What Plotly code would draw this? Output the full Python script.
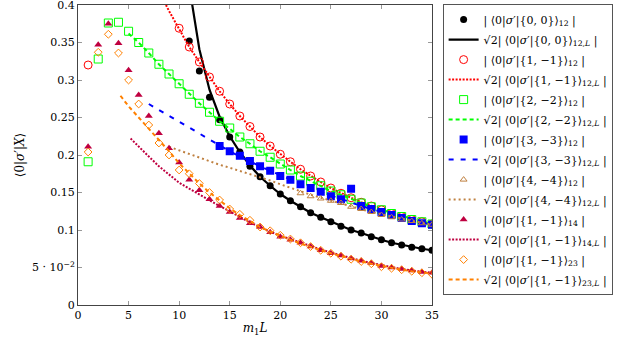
import plotly.graph_objects as go

# ---- data ----
x_00 = list(range(11, 36))
y_00 = [0.352, 0.312, 0.277, 0.247, 0.224, 0.204, 0.185, 0.171, 0.159, 0.148,
        0.139, 0.131, 0.123, 0.117, 0.111, 0.105, 0.100, 0.096, 0.091, 0.087,
        0.083, 0.080, 0.077, 0.075, 0.073]
xl_00 = [11.0, 11.3, 12, 13, 14, 15, 16, 17, 18, 19, 20, 21, 22, 23, 24, 25,
         26, 27, 28, 29, 30, 31, 32, 33, 34, 35]
yl_00 = [0.425, 0.400, 0.341, 0.287, 0.251, 0.225, 0.204, 0.186, 0.171, 0.159,
         0.148, 0.139, 0.131, 0.123, 0.117, 0.111, 0.105, 0.100, 0.096, 0.091,
         0.087, 0.083, 0.080, 0.077, 0.075, 0.073]

x_11 = [1] + list(range(10, 36))
y_11 = [0.320, 0.369, 0.344, 0.324, 0.304, 0.285, 0.268, 0.252, 0.238, 0.224,
        0.212, 0.201, 0.191, 0.181, 0.172, 0.164, 0.156, 0.149, 0.143, 0.137,
        0.132, 0.127, 0.122, 0.118, 0.114, 0.111, 0.108]
xl_11 = [8.7] + list(range(9, 36))
yl_11 = [0.400, 0.392, 0.368, 0.344, 0.324, 0.304, 0.285, 0.268, 0.252, 0.238,
         0.224, 0.212, 0.201, 0.191, 0.181, 0.172, 0.164, 0.156, 0.149, 0.143,
         0.137, 0.132, 0.127, 0.122, 0.118, 0.114, 0.111, 0.108]

x_22 = list(range(1, 36))
y_22 = [0.191, 0.328, 0.376, 0.377, 0.365, 0.350, 0.336, 0.321, 0.308, 0.295,
        0.281, 0.269, 0.257, 0.245, 0.236, 0.224, 0.215, 0.205, 0.197, 0.188,
        0.180, 0.172, 0.165, 0.159, 0.152, 0.147, 0.141, 0.136, 0.131, 0.127,
        0.122, 0.118, 0.114, 0.111, 0.108]
xl_22 = list(range(5, 36))
yl_22 = [0.362, 0.350, 0.336, 0.321, 0.308, 0.295, 0.281, 0.269, 0.257, 0.245,
         0.235, 0.224, 0.215, 0.205, 0.197, 0.188, 0.180, 0.172, 0.165, 0.159,
         0.152, 0.147, 0.141, 0.136, 0.131, 0.127, 0.122, 0.118, 0.114, 0.111,
         0.108]

x_33 = list(range(14, 36))
y_33 = [0.212, 0.205, 0.199, 0.192, 0.185, 0.179, 0.172, 0.167, 0.161, 0.156,
        0.151, 0.145, 0.141, 0.155, 0.132, 0.128, 0.124, 0.120, 0.116, 0.112,
        0.109, 0.107]
xl_33 = list(range(7, 36))
yl_33 = [0.268, 0.260, 0.252, 0.244, 0.236, 0.228, 0.220, 0.212, 0.205, 0.198,
         0.191, 0.185, 0.179, 0.173, 0.167, 0.161, 0.156, 0.151, 0.146, 0.141,
         0.137, 0.132, 0.128, 0.124, 0.120, 0.116, 0.113, 0.110, 0.107]

x_44 = list(range(22, 36))
y_44 = [0.149, 0.145, 0.142, 0.139, 0.136, 0.131, 0.128, 0.124, 0.120, 0.117,
        0.114, 0.112, 0.109, 0.107]
xl_44 = list(range(9, 36))
yl_44 = [0.211, 0.206, 0.201, 0.196, 0.191, 0.187, 0.183, 0.179, 0.175, 0.171,
         0.166, 0.161, 0.156, 0.152, 0.147, 0.143, 0.139, 0.135, 0.131, 0.128,
         0.124, 0.121, 0.118, 0.115, 0.112, 0.109, 0.107]

x_14 = list(range(1, 36))
y_14 = [0.211, 0.347, 0.375, 0.349, 0.313, 0.280, 0.252, 0.229, 0.209, 0.190,
        0.167, 0.153, 0.141, 0.132, 0.124, 0.116, 0.109, 0.104, 0.097, 0.091,
        0.087, 0.083, 0.078, 0.073, 0.069, 0.066, 0.062, 0.059, 0.056, 0.052,
        0.050, 0.048, 0.046, 0.044, 0.043]
xl_14 = [5.2] + list(range(6, 36))
yl_14 = [0.222, 0.211, 0.198, 0.185, 0.174, 0.163, 0.155, 0.147, 0.139, 0.132,
         0.125, 0.117, 0.110, 0.104, 0.098, 0.092, 0.088, 0.083, 0.078, 0.074,
         0.070, 0.066, 0.062, 0.059, 0.056, 0.053, 0.050, 0.048, 0.046, 0.044,
         0.043]

x_23 = list(range(1, 36))
y_23 = [0.204, 0.337, 0.361, 0.336, 0.300, 0.268, 0.240, 0.216, 0.200, 0.180,
        0.175, 0.162, 0.150, 0.140, 0.128, 0.121, 0.113, 0.104, 0.099, 0.093,
        0.088, 0.083, 0.078, 0.073, 0.069, 0.065, 0.061, 0.058, 0.055, 0.051,
        0.049, 0.047, 0.045, 0.043, 0.041]
xl_23 = [4.2] + list(range(5, 36))
yl_23 = [0.279, 0.265, 0.250, 0.235, 0.221, 0.205, 0.189, 0.175, 0.162, 0.150,
         0.139, 0.129, 0.120, 0.112, 0.104, 0.098, 0.092, 0.087, 0.082, 0.077,
         0.073, 0.069, 0.065, 0.062, 0.058, 0.055, 0.052, 0.049, 0.047, 0.045,
         0.043, 0.042]

x_ticks = [0, 5, 10, 15, 20, 25, 30, 35]
y_ticks = [0, 0.05, 0.1, 0.15, 0.2, 0.25, 0.3, 0.35, 0.4]
y_ticktext = ["0", "5 · 10<sup>−2</sup>", "0.1", "0.15", "0.2", "0.25", "0.3",
              "0.35", "0.4"]

BROWN = "#bf8040"
PURPLE = "#bf0040"
ORANGE = "#ff8000"
SERIF = "DejaVu Serif"


def amp(state, sub, sqrt2=False):
    pre = "√2" if sqrt2 else ""
    return f"{pre}| ⟨0|<i>σ</i>′|{{{state}}}⟩<sub>{sub}</sub> |"


fig = go.Figure()
n_pair = 0


def add_pair(xm, ym, xl, yl, state, sub, color, marker, dash, lw=2):
    # every legend entry in its own group so tracegroupgap spaces the rows
    global n_pair
    fig.add_scatter(x=xm, y=ym, mode="markers", marker=marker,
                    name=amp(state, sub), legendgroup=f"m{n_pair}")
    fig.add_scatter(x=xl, y=yl, mode="lines",
                    line=dict(color=color, width=lw, dash=dash),
                    name=amp(state, sub + ",<i>L</i>", sqrt2=True),
                    legendgroup=f"l{n_pair}")
    n_pair += 1


add_pair(x_00, y_00, xl_00, yl_00, "0, 0", "12", "black",
         dict(symbol="circle", size=7, color="black"), "solid", lw=2.2)
add_pair(x_11, y_11, xl_11, yl_11, "1, −1", "12", "red",
         dict(symbol="circle-open", size=8, color="red", line_width=1), "2px,1.5px")
add_pair(x_22, y_22, xl_22, yl_22, "2, −2", "12", "#00ff00",
         dict(symbol="square-open", size=8, color="#00ff00", line_width=1), "4px,3px")
add_pair(x_33, y_33, xl_33, yl_33, "3, −3", "12", "blue",
         dict(symbol="square", size=8, color="blue"), "5px,7px")
add_pair(x_44, y_44, xl_44, yl_44, "4, −4", "12", BROWN,
         dict(symbol="triangle-up-open", size=6, color=BROWN, line_width=1), "2px,3px")
add_pair(x_14, y_14, xl_14, yl_14, "1, −1", "14", PURPLE,
         dict(symbol="triangle-up", size=7, color=PURPLE), "2px,1.5px")
add_pair(x_23, y_23, xl_23, yl_23, "1, −1", "23", ORANGE,
         dict(symbol="diamond-open", size=6, color=ORANGE, line_width=1), "4px,3px")

axis_common = dict(showgrid=False, zeroline=False, showline=True,
                   linecolor="#444", linewidth=1, mirror="allticks",
                   ticks="inside", ticklen=4, tickcolor="#999",
                   ticklabeloverflow="allow",
                   tickfont=dict(family=SERIF, size=11, color="black"))

fig.update_xaxes(range=[0, 35], tickvals=x_ticks,
                 title=dict(text="<i>m</i><sub>1</sub><i>L</i>", standoff=2,
                            font=dict(family=SERIF, size=12)),
                 **axis_common)
fig.update_yaxes(range=[0, 0.4], tickvals=y_ticks, ticktext=y_ticktext,
                 title=dict(text="⟨0|<i>σ</i>′|<i>X</i>⟩", standoff=4,
                            font=dict(family=SERIF, size=12)),
                 **axis_common)

fig.update_layout(
    width=618, height=345,
    margin=dict(l=78, r=186, t=5, b=40, autoexpand=False),
    plot_bgcolor="white", paper_bgcolor="white",
    font=dict(family=SERIF, size=11, color="black"),
    legend=dict(x=1.03, y=1.003, xanchor="left", yanchor="top",
                bordercolor="#555", borderwidth=1, maxheight=340,
                font=dict(family=SERIF, size=11),
                itemwidth=30, tracegroupgap=1),
)

# drop the browser's default 8px body margin so the figure sits at (0, 0)
fig.write_html("out.html", config={"displayModeBar": False},
               post_script="document.body.style.margin = '0';")
